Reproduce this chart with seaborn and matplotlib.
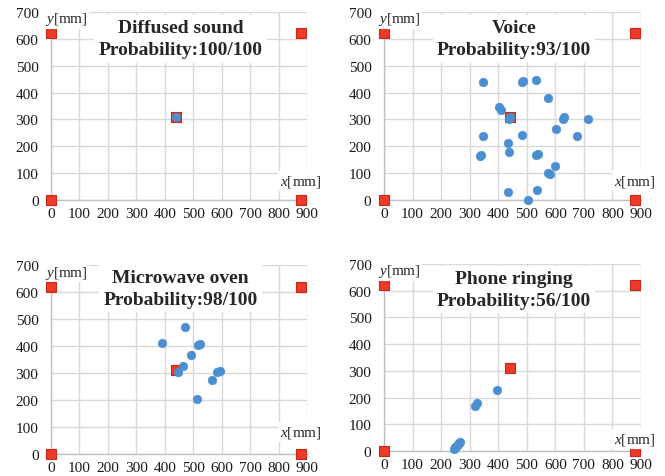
import matplotlib
matplotlib.use("Agg")
import matplotlib.pyplot as plt
import matplotlib.transforms as mtransforms
import seaborn as sns
import pandas as pd

# Speaker (loudspeaker) positions [mm]
speaker_x = [0, 0, 880, 880, 440]
speaker_y = [0, 620, 620, 0, 310]

# Estimated source positions per sound class [mm]
diffused_x = [440]
diffused_y = [308]

voice_x = [348, 482, 486, 532, 576, 403, 410, 436, 440, 626, 632, 714, 602, 345, 485, 675,
           435, 438, 336, 340, 533, 538, 600, 574, 580, 535, 435, 503]
voice_y = [440, 440, 443, 448, 378, 346, 336, 302, 308, 303, 308, 301, 266, 239, 243, 239,
           211, 178, 165, 169, 166, 170, 127, 100, 97, 39, 31, 0]

microwave_x = [472, 390, 517, 523, 493, 464, 448, 585, 594, 566, 514]
microwave_y = [469, 411, 402, 408, 368, 326, 302, 303, 306, 275, 202]

phone_x = [246, 250, 254, 258, 262, 266, 320, 324, 395]
phone_y = [8, 14, 20, 26, 30, 34, 168, 180, 230]

titles = ["Diffused sound\nProbability:100/100",
          "Voice\nProbability:93/100",
          "Microwave oven\nProbability:98/100",
          "Phone ringing\nProbability:56/100"]

x_ticks = list(range(0, 1000, 100))
y_ticks = list(range(0, 800, 100))
x_labels = [str(v) for v in x_ticks]
y_labels = [str(v) for v in y_ticks]

sns.set_style("white")
plt.rcParams["font.family"] = ["Liberation Serif", "DejaVu Serif"]
plt.rcParams["mathtext.fontset"] = "custom"
plt.rcParams["mathtext.it"] = "Liberation Serif:italic"
plt.rcParams["mathtext.rm"] = "Liberation Serif"

W, H = 665, 477
fig = plt.figure(figsize=(W / 100, H / 100), dpi=100)

# axes boxes in pixel coords: (x0, x900, y0, y700)
boxes = [(51, 307, 201, 13), (384, 641, 201, 13), (51, 307, 455, 266), (384, 641, 452, 265)]
datasets = [(diffused_x, diffused_y), (voice_x, voice_y),
            (microwave_x, microwave_y), (phone_x, phone_y)]
title_y = [600, 600, 614, 605]
xlab_y = [71, 70, 81, 45]

blue = "#4a8fd0"
red = "#ee3a26"
tick_color = "#1a1a1a"

spk = pd.DataFrame({"x": speaker_x, "y": speaker_y})

for i, ((xl, xr, yb, yt), (dx, dy), title) in enumerate(zip(boxes, datasets, titles)):
    ax = fig.add_axes([xl / W, 1 - yb / H, (xr - xl) / W, (yb - yt) / H])

    sns.scatterplot(data=spk, x="x", y="y", marker="s", s=58, color=red,
                    edgecolor="#c8281c", linewidth=0.8, ax=ax, clip_on=False, zorder=3)
    pts = pd.DataFrame({"x": dx, "y": dy})
    sns.scatterplot(data=pts, x="x", y="y", marker="o", s=40, color=blue,
                    edgecolor=blue, linewidth=0.3, ax=ax, clip_on=False, zorder=4)
    ax.set(xlabel=None, ylabel=None)

    ax.set_xlim(0, 900)
    ax.set_ylim(0, 700)
    ax.set_xticks(x_ticks, x_labels)
    ax.set_yticks(y_ticks, y_labels[:-1] + [""])
    ax.grid(True, color="#d9d9d9", linewidth=1.0)
    ax.set_axisbelow(True)
    for s in ["top", "right"]:
        ax.spines[s].set_visible(False)
    for s in ["left", "bottom"]:
        ax.spines[s].set_color("#bfbfbf")
        ax.spines[s].set_linewidth(1.0)
    ax.tick_params(length=0, labelsize=11, colors=tick_color)
    ax.tick_params(axis="y", pad=9)
    ax.tick_params(axis="x", pad=5)

    # top y tick label drawn at figure level (placed through the axes' own transform)
    top_tr = mtransforms.offset_copy(ax.get_yaxis_transform(), fig=fig, x=-9, y=0,
                                     units="points")
    fig.text(0, y_ticks[-1], y_labels[-1], transform=top_tr, ha="right",
             va="center_baseline", fontsize=11, color=tick_color, zorder=10)

    ax.text(455, title_y[i], title, ha="center", va="center", fontsize=14, fontweight="bold",
            linespacing=1.4, zorder=5,
            bbox=dict(facecolor="white", edgecolor="none", pad=3))
    ax.text(55, 674, "$y$[mm]", ha="center", va="center", fontsize=11, zorder=5,
            bbox=dict(facecolor="white", edgecolor="none", pad=1.0))
    ax.text(880, xlab_y[i], "$x$[mm]", ha="center", va="center", fontsize=11, zorder=5,
            clip_on=False,
            bbox=dict(facecolor="white", edgecolor="none", pad=1.5))

fig.savefig("out.png", dpi=100)
